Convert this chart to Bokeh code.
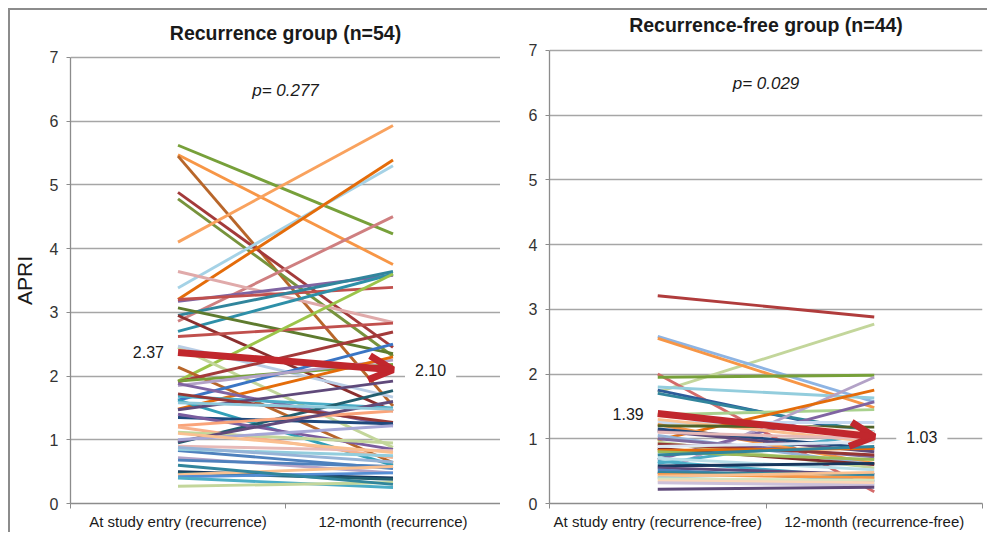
import math
from bokeh.plotting import figure
from bokeh.models import ColumnDataSource, FixedTicker, Label, Arrow, OpenHead, Range1d
from bokeh.layouts import row
from bokeh.embed import file_html
from bokeh.resources import INLINE

FONT = "Liberation Sans"

# ---------------- data ----------------
rec_categories = ["At study entry (recurrence)", "12-month (recurrence)"]
free_categories = ["At study entry (recurrence-free)", "12-month (recurrence-free)"]
y_ticks = [0, 1, 2, 3, 4, 5, 6, 7]
y_title = "APRI"

rec_entry = [5.62, 5.47, 5.45, 4.88, 4.78, 4.10, 3.38, 3.20, 2.86, 3.64,
             3.17, 3.20, 2.95, 2.70, 3.07, 2.95, 2.62, 1.92, 2.45, 2.47,
             2.14, 1.91, 1.92, 1.62, 1.85, 1.48, 1.88, 1.68, 1.62, 1.47,
             0.95, 1.72, 1.35, 1.40, 1.22, 1.20, 1.12, 0.97, 1.00, 0.90,
             0.83, 0.85, 0.72, 0.68, 0.50, 0.48, 0.45, 0.42, 0.40, 0.27,
             0.60, 0.88, 1.58, 1.10]
rec_12m = [4.23, 3.75, 1.53, 2.45, 2.31, 5.93, 5.30, 5.39, 4.50, 2.84,
           3.58, 3.39, 3.64, 3.60, 2.35, 1.45, 2.83, 3.60, 0.88, 1.67,
           0.64, 2.69, 2.18, 2.50, 2.25, 2.30, 1.22, 1.50, 0.60, 1.92,
           1.77, 1.27, 1.25, 0.85, 1.45, 0.72, 0.95, 1.60, 1.22, 0.83,
           0.55, 0.75, 0.48, 0.58, 0.40, 0.38, 0.58, 0.48, 0.25, 0.33,
           0.30, 0.65, 1.48, 0.80]
rec_colors = ["#77A03A", "#F79646", "#B8662A", "#A33A3A", "#77933C", "#F9A25E", "#A5D2E6", "#E46C0A", "#CF7F80", "#E0AAAA",
              "#8064A2", "#C0504D", "#31859C", "#2E8FA8", "#5E7B2E", "#8B2F2E", "#C0504D", "#9BC44A", "#C3D69B", "#B9CDE5",
              "#B8662A", "#A33A3A", "#77A03A", "#3A75C4", "#B3A2C7", "#E46C0A", "#8064A2", "#4BACC6", "#31A0B8", "#5F497A",
              "#215E6E", "#953735", "#1F497D", "#7A5C9E", "#FAA47A", "#F8B08A", "#C3D69B", "#604A7B", "#A6A6D6", "#E6B9B8",
              "#4F81BD", "#93CDDD", "#B3A2C7", "#4F81BD", "#17375E", "#215E6E", "#FAC090", "#558ED5", "#4BACC6", "#C3D69B",
              "#31859C", "#95B3D7", "#8CC8DA", "#FAC090"]
rec_mean = [2.37, 2.10]

free_entry = [3.21, 1.72, 2.58, 2.55, 2.00, 1.95, 1.80, 1.75, 1.70, 1.37,
              0.46, 0.98, 0.68, 1.25, 0.62, 1.30, 1.22, 1.15, 1.12, 1.10,
              1.05, 1.00, 0.95, 0.92, 0.85, 0.82, 0.80, 0.75, 0.70, 0.65,
              0.58, 0.55, 0.52, 0.48, 0.45, 0.42, 0.40, 0.38, 0.35, 0.32,
              0.22, 1.20, 0.88, 1.35]
free_12m = [2.88, 2.77, 1.57, 1.48, 0.18, 1.98, 1.63, 1.05, 1.10, 1.45,
            1.95, 1.75, 1.57, 1.25, 1.07, 0.95, 0.62, 0.85, 0.80, 1.00,
            0.60, 0.72, 0.55, 0.75, 0.60, 0.85, 0.68, 0.88, 0.52, 0.40,
            0.62, 0.45, 0.35, 0.45, 0.40, 0.48, 0.30, 0.36, 0.32, 0.28,
            0.25, 1.18, 0.95, 1.10]
free_colors = ["#B03C3C", "#C3D69B", "#8EB4E3", "#F79646", "#D46A6A", "#77A03A", "#93CDDD", "#2E5C9A", "#31859C", "#A9D18E",
               "#B3A2C7", "#E46C0A", "#8064A2", "#C6D9F1", "#4BACC6", "#FAC090", "#F79646", "#1F497D", "#604A7B", "#E6B9B8",
               "#95B3D7", "#7F6A9E", "#C3D69B", "#953735", "#7F2B2A", "#E46C0A", "#9BBB59", "#31859C", "#B7DEE8", "#4BACC6",
               "#17375E", "#5F497A", "#4F81BD", "#31859C", "#F79646", "#FAC090", "#93CDDD", "#D7E4BD", "#FCD5B5", "#CCC1DA",
               "#5F497A", "#4F6228", "#DCE6F2", "#FDE9D9"]
free_mean = [1.39, 1.03]

titles = ["Recurrence group (n=54)", "Recurrence-free group (n=44)"]
p_texts = ["p= 0.277", "p= 0.029"]

RED = "#C1272D"
GRID = "#A6A6A6"
AXIS = "#8C8C8C"
TXT = "#1A1A1A"
H = 522
B_BOTTOM = 27


def panel(title, cats, entry, m12, colors, means, p_text, fig_w, b_left, b_right,
          y_top, end_off, title_off, p_y):
    n_cat = len(cats)
    xpos = [i + 0.5 for i in range(n_cat)]
    p = figure(width=fig_w, height=H, x_range=Range1d(0, n_cat), y_range=Range1d(0, y_top),
               output_backend="svg", toolbar_location=None,
               min_border_left=b_left, min_border_right=b_right,
               min_border_top=0, min_border_bottom=B_BOTTOM)
    p.outline_line_color = None
    p.background_fill_color = "white"
    p.border_fill_color = "white"

    src = ColumnDataSource(dict(xs=[xpos] * len(entry),
                                ys=[[a, b] for a, b in zip(entry, m12)],
                                color=colors))
    p.multi_line("xs", "ys", line_color="color", line_width=2.9, source=src)

    # grid
    p.xgrid.visible = False
    p.ygrid.ticker = FixedTicker(ticks=y_ticks)
    p.ygrid.grid_line_color = GRID
    p.ygrid.grid_line_width = 1.3

    # x axis
    xa = p.xaxis[0]
    xa.ticker = FixedTicker(ticks=xpos, minor_ticks=list(range(n_cat + 1)))
    xa.major_label_overrides = {x: c for x, c in zip(xpos, cats)}
    xa.major_tick_out = 0
    xa.major_tick_in = 0
    xa.minor_tick_out = 5
    xa.minor_tick_in = 0
    xa.minor_tick_line_color = AXIS
    xa.axis_line_color = AXIS
    xa.axis_line_width = 1.3
    xa.major_label_standoff = 4
    xa.major_label_text_font = FONT
    xa.major_label_text_font_size = "15px"
    xa.major_label_text_color = TXT

    # y axis
    ya = p.yaxis[0]
    ya.ticker = FixedTicker(ticks=y_ticks)
    ya.bounds = (y_ticks[0], y_ticks[-1])
    ya.major_tick_out = 4
    ya.major_tick_in = 0
    ya.minor_tick_out = 0
    ya.minor_tick_in = 0
    ya.major_tick_line_color = AXIS
    ya.axis_line_color = AXIS
    ya.axis_line_width = 1.3
    ya.major_label_standoff = 8
    ya.major_label_text_font = FONT
    ya.major_label_text_font_size = "16px"
    ya.major_label_text_color = "#333333"

    # title, placed above the top gridline
    p.add_layout(Label(x=n_cat / 2, y=y_ticks[-1], y_offset=title_off, text=title,
                       text_align="center", text_baseline="middle", text_font=FONT,
                       text_font_size="19.5px", text_font_style="bold", text_color=TXT))

    # p-value
    p.add_layout(Label(x=n_cat / 2, y=p_y, text=p_text, text_align="center",
                       text_baseline="middle", text_font=FONT, text_font_size="17px",
                       text_font_style="italic", text_color=TXT))

    # mean arrow
    p.add_layout(Arrow(x_start=xpos[0], y_start=means[0], x_end=xpos[1], y_end=means[1],
                       line_color=RED, line_width=7,
                       end=OpenHead(size=24, line_color=RED, line_width=7)))
    p.add_layout(Label(x=xpos[0], y=means[0], text=f"{means[0]:.2f}", x_offset=-14,
                       text_align="right", text_baseline="middle", text_font=FONT,
                       text_font_size="16px", text_color=TXT))
    p.add_layout(Label(x=xpos[1], y=means[1], text=f"{means[1]:.2f}", x_offset=end_off,
                       text_align="left", text_baseline="middle", text_font=FONT,
                       text_font_size="16px", text_color=TXT,
                       background_fill_color="white", padding=10))
    return p


# narrow strip carrying the y-axis title, centred on the 0-7 scale
p0 = figure(width=30, height=H, x_range=Range1d(0, 1), y_range=Range1d(0, 7.734),
            x_axis_type=None, y_axis_type=None, output_backend="svg", toolbar_location=None,
            min_border_left=0, min_border_right=0, min_border_top=0, min_border_bottom=B_BOTTOM)
p0.outline_line_color = None
p0.border_fill_color = "white"
p0.add_layout(Label(x=0.47, y=(y_ticks[0] + y_ticks[-1]) / 2, text=y_title, angle=math.pi / 2,
                    text_align="center", text_baseline="middle", text_font=FONT,
                    text_font_size="21px", text_color=TXT))

p1 = panel(titles[0], rec_categories, rec_entry, rec_12m, rec_colors, rec_mean, p_texts[0],
           fig_w=460, b_left=30, b_right=0, y_top=7.734, end_off=12,
           title_off=24, p_y=6.48)
p2 = panel(titles[1], free_categories, free_entry, free_12m, free_colors, free_mean, p_texts[1],
           fig_w=487, b_left=49, b_right=5, y_top=7.615, end_off=22,
           title_off=25, p_y=6.48)

layout = row(p0, p1, p2, styles={"margin-left": "8px", "margin-top": "8px",
                                 "border-left": "2px solid #8C8C8C", "border-top": "2px solid #8C8C8C"})

open("out.html", "w").write(file_html(layout, INLINE))
